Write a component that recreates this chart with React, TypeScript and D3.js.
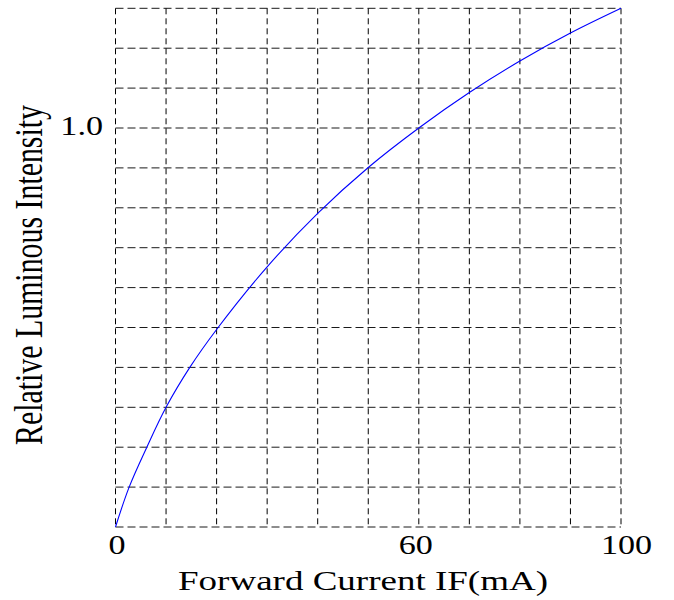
import React from "react";
import * as d3 from "d3";

const currentMA = [0, 2.7, 6.2, 10, 14.7, 20, 30, 40, 50, 60, 70, 80, 90, 100];
const intensity = [0, 0.1, 0.2, 0.3, 0.4, 0.495, 0.652, 0.786, 0.901, 1.0, 1.089, 1.168, 1.238, 1.3];
const xGridValues = d3.range(0, 101, 10);
const yGridValues = d3.range(0, 14).map((i) => i / 10);
const xTickLabels = [
  { v: 0, label: "0" },
  { v: 60, label: "60" },
  { v: 100, label: "100" },
];
const yTickLabels = [{ v: 1.0, label: "1.0" }];

export default function App() {
  const W = 674;
  const H = 600;
  const x = d3.scaleLinear().domain([0, 100]).range([115.5, 621]);
  const y = d3.scaleLinear().domain([0, 1.3]).range([527, 8.3]);
  const pts: [number, number][] = currentMA.map((c, i) => [c, intensity[i]]);
  const line = d3
    .line<[number, number]>()
    .x((d) => x(d[0]))
    .y((d) => y(d[1]))
    .curve(d3.curveCatmullRom.alpha(0.5));
  const font = "'Liberation Serif', 'Times New Roman', serif";
  const sx = 1.22;
  const xLabelOffsets: Record<string, number> = { "0": 1.5, "60": -3, "100": 5.5 };

  return (
    <svg width={W} height={H} style={{ position: "absolute", left: 0, top: 0, background: "#fff" }}>
      <rect x={0} y={0} width={W} height={H} fill="#fff" />
      {yGridValues.map((v) => (
        <line
          key={"h" + v}
          x1={x(0)}
          x2={x(100)}
          y1={y(v)}
          y2={y(v)}
          stroke="#1a1a1a"
          strokeWidth={1}
          strokeDasharray="8,4"
        />
      ))}
      {xGridValues.map((v) => (
        <line
          key={"v" + v}
          x1={x(v)}
          x2={x(v)}
          y1={y(1.3)}
          y2={y(0)}
          stroke="#000"
          strokeWidth={1}
          strokeDasharray="6,4"
        />
      ))}
      <path d={line(pts) || ""} fill="none" stroke="#0000ff" strokeWidth={1.1} />
      {xTickLabels.map((t) => (
        <text
          key={"xt" + t.v}
          transform={`translate(${x(t.v) + xLabelOffsets[t.label]},554) scale(${sx},1)`}
          textAnchor="middle"
          fontFamily={font}
          fontSize={28}
          fill="#000"
        >
          {t.label}
        </text>
      ))}
      {yTickLabels.map((t) => (
        <text
          key={"yt" + t.v}
          transform={`translate(103,${y(t.v) + 6.5}) scale(${sx},1)`}
          textAnchor="end"
          fontFamily={font}
          fontSize={28}
          fill="#000"
        >
          {t.label}
        </text>
      ))}
      <text
        x={363}
        y={590}
        textAnchor="middle"
        fontFamily={font}
        fontSize={28}
        textLength={370}
        lengthAdjust="spacingAndGlyphs"
        fill="#000"
      >
        Forward Current IF(mA)
      </text>
      <text
        transform={`translate(42,275) scale(1.3,1) rotate(-90)`}
        textAnchor="middle"
        fontFamily={font}
        fontSize={30}
        textLength={340}
        lengthAdjust="spacingAndGlyphs"
        fill="#000"
      >
        Relative Luminous Intensity
      </text>
    </svg>
  );
}
